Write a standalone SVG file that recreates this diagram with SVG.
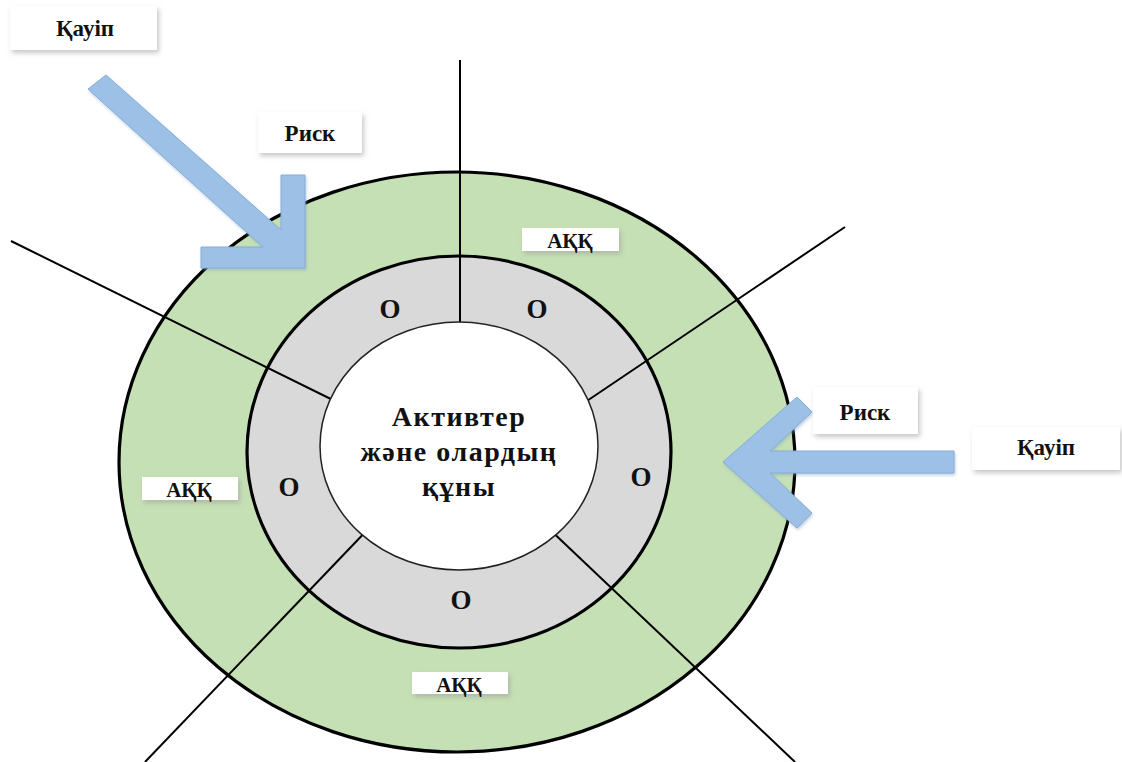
<svg xmlns="http://www.w3.org/2000/svg" width="1122" height="762" viewBox="0 0 1122 762">
  <defs>
    <filter id="boxShadow" x="-20%" y="-30%" width="150%" height="180%">
      <feDropShadow dx="2" dy="3" stdDeviation="2.5" flood-color="#9a9a9a" flood-opacity="0.55"/>
    </filter>
    <filter id="arrowGlow" x="-10%" y="-10%" width="120%" height="120%">
      <feDropShadow dx="1" dy="2" stdDeviation="1.5" flood-color="#7a9cc4" flood-opacity="0.45"/>
    </filter>
  </defs>
  <style>
    .ring { stroke: #000; stroke-width: 3.2; }
    .divider { stroke: #000; stroke-width: 2; fill: none; }
    .arrow { fill: #9dc1e6; stroke: #86acd8; stroke-width: 1; }
    .box { fill: #fff; }
    .lbl { font-family: "Liberation Serif", "DejaVu Serif", serif; font-weight: bold; fill: #111; text-anchor: middle; }
    .small { font-size: 21px; }
    .mid { font-size: 23px; }
    .seg { font-size: 27px; }
    .core { font-size: 28px; letter-spacing: 1.5px; }
  </style>

  <rect width="1122" height="762" fill="#fff"/>

  <!-- outer band -->
  <g id="outer-ring">
    <ellipse cx="457" cy="462" rx="338" ry="290" fill="#c5e0b4" class="ring"/>
  </g>

  <!-- middle band -->
  <g id="middle-ring">
    <ellipse cx="459" cy="452" rx="212" ry="196" fill="#d9d9d9" class="ring"/>
  </g>

  <!-- radial dividers -->
  <g id="connectors">
    <line class="divider" x1="460" y1="60" x2="460" y2="340"/>
    <line class="divider" x1="11" y1="241" x2="345" y2="406"/>
    <line class="divider" x1="845" y1="227" x2="575" y2="409"/>
    <line class="divider" x1="145" y1="762" x2="372" y2="525"/>
    <line class="divider" x1="795" y1="762" x2="545" y2="525"/>
  </g>

  <!-- centre -->
  <g id="core">
    <ellipse cx="459" cy="446" rx="139" ry="124" fill="#fff" stroke="#222" stroke-width="1.5"/>
    <text class="lbl core" x="459" y="426">Активтер</text>
    <text class="lbl core" x="459" y="461">және олардың</text>
    <text class="lbl core" x="459" y="496">құны</text>
  </g>

  <!-- segment marks -->
  <g id="segments">
    <text class="lbl seg" x="390" y="318">О</text>
    <text class="lbl seg" x="537" y="318">О</text>
    <text class="lbl seg" x="641" y="486">О</text>
    <text class="lbl seg" x="289" y="496">О</text>
    <text class="lbl seg" x="461" y="609">О</text>
  </g>

  <!-- arrows -->
  <g id="arrow-top-left">
    <polygon class="arrow" filter="url(#arrowGlow)" points="106,75 281,230 281,175 305,175 305,268 201,268 201,247 263,247 88,89"/>
  </g>
  <g id="arrow-right">
    <polygon class="arrow" filter="url(#arrowGlow)" points="723,462 797,397 812,412 770,451 954,451 954,473 770,473 812,513 797,528"/>
  </g>

  <!-- labels -->
  <g id="label-threat-top">
    <rect class="box" filter="url(#boxShadow)" x="10" y="6" width="147" height="44"/>
    <text class="lbl mid" x="85" y="36">Қауіп</text>
  </g>
  <g id="label-risk-top">
    <rect class="box" filter="url(#boxShadow)" x="258" y="112" width="104" height="41"/>
    <text class="lbl mid" x="310" y="141">Риск</text>
  </g>
  <g id="label-akk-top">
    <rect class="box" filter="url(#boxShadow)" x="522" y="228" width="97" height="23"/>
    <text class="lbl small" x="570" y="248">АҚҚ</text>
  </g>
  <g id="label-risk-right">
    <rect class="box" filter="url(#boxShadow)" x="813" y="387" width="105" height="47"/>
    <text class="lbl mid" x="865" y="420">Риск</text>
  </g>
  <g id="label-threat-right">
    <rect class="box" filter="url(#boxShadow)" x="972" y="427" width="148" height="43"/>
    <text class="lbl mid" x="1046" y="455">Қауіп</text>
  </g>
  <g id="label-akk-left">
    <rect class="box" filter="url(#boxShadow)" x="142" y="477" width="96" height="23"/>
    <text class="lbl small" x="189" y="497">АҚҚ</text>
  </g>
  <g id="label-akk-bottom">
    <rect class="box" filter="url(#boxShadow)" x="412" y="672" width="96" height="22"/>
    <text class="lbl small" x="459" y="692">АҚҚ</text>
  </g>
</svg>
